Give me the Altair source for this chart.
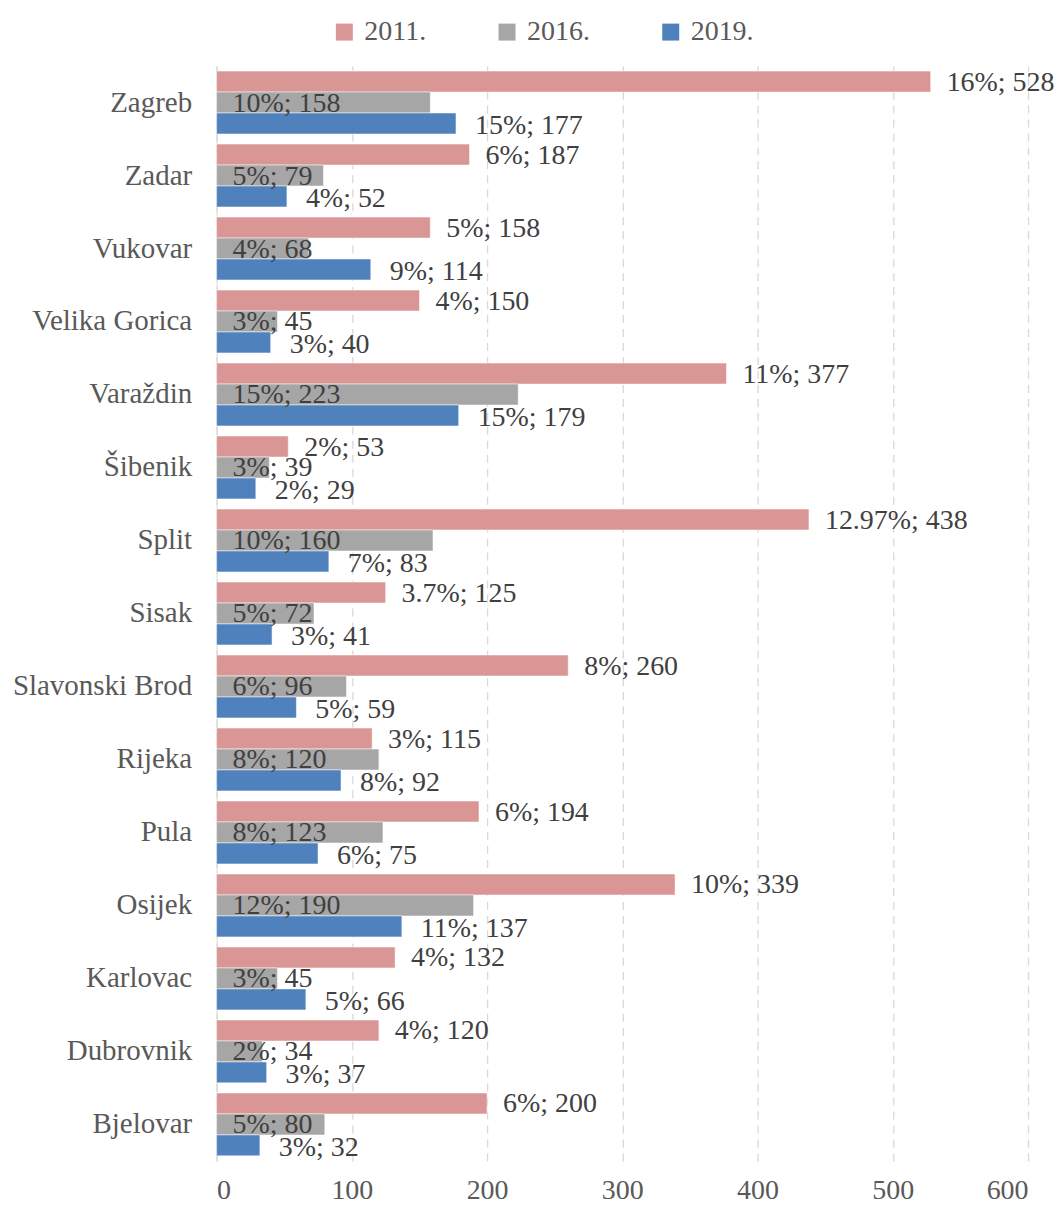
import altair as alt
import pandas as pd

cities = ["Zagreb", "Zadar", "Vukovar", "Velika Gorica", "Varaždin", "Šibenik", "Split",
          "Sisak", "Slavonski Brod", "Rijeka", "Pula", "Osijek", "Karlovac", "Dubrovnik", "Bjelovar"]
years = ["2011.", "2016.", "2019."]
v2011 = [528, 187, 158, 150, 377, 53, 438, 125, 260, 115, 194, 339, 132, 120, 200]
p2011 = ["16%", "6%", "5%", "4%", "11%", "2%", "12.97%", "3.7%", "8%", "3%", "6%", "10%", "4%", "4%", "6%"]
v2016 = [158, 79, 68, 45, 223, 39, 160, 72, 96, 120, 123, 190, 45, 34, 80]
p2016 = ["10%", "5%", "4%", "3%", "15%", "3%", "10%", "5%", "6%", "8%", "8%", "12%", "3%", "2%", "5%"]
v2019 = [177, 52, 114, 40, 179, 29, 83, 41, 59, 92, 75, 137, 66, 37, 32]
p2019 = ["15%", "4%", "9%", "3%", "15%", "2%", "7%", "3%", "5%", "8%", "6%", "11%", "5%", "3%", "3%"]
colors = ["#D99694", "#A6A6A6", "#4F81BD"]

rows = []
for yr, vals, pcts in zip(years, [v2011, v2016, v2019], [p2011, p2016, p2019]):
    for c, v, p in zip(cities, vals, pcts):
        rows.append({"city": c, "year": yr, "value": v, "label": f"{p}; {v}"})
df = pd.DataFrame(rows)

FONT = "Liberation Serif"

y_enc = alt.Y("city:N", sort=cities, title=None,
              scale=alt.Scale(paddingInner=0.139, paddingOuter=0.0695),
              axis=alt.Axis(labelFont=FONT, labelFontSize=29, labelColor="#595959",
                            labelPadding=25, ticks=False, domainColor="#D9D9D9",
                            domainWidth=1))
yoff = alt.YOffset("year:N", sort=years, scale=alt.Scale(paddingInner=0, paddingOuter=0))

bars = alt.Chart(df).mark_bar(stroke="white", strokeWidth=0.5).encode(
    x=alt.X("value:Q", title=None,
            scale=alt.Scale(domain=[0, 600]),
            axis=alt.Axis(values=[0, 100, 200, 300, 400, 500, 600], labelFont=FONT,
                          labelFontSize=28, labelColor="#595959", labelPadding=16,
                          ticks=False, domain=False, gridColor="#D9D9D9",
                          gridDash=[8, 6], gridWidth=1.3)),
    y=y_enc,
    yOffset=yoff,
    color=alt.Color("year:N", sort=years,
                    scale=alt.Scale(domain=years, range=colors),
                    legend=alt.Legend(title=None, orient="none", direction="horizontal",
                                      legendX=114, legendY=-48, symbolType="square",
                                      symbolSize=289, symbolStrokeWidth=0,
                                      labelFont=FONT, labelFontSize=28,
                                      labelColor="#595959", labelOffset=6,
                                      columnPadding=67, padding=0)),
)

lab2011 = alt.Chart(df[df.year == "2011."]).mark_text(
    align="left", baseline="middle", dx=16, dy=1, font=FONT, fontSize=28, color="#404040"
).encode(x="value:Q", y=alt.Y("city:N", sort=cities), yOffset=yoff, text="label:N")

lab2016 = alt.Chart(df[df.year == "2016."]).mark_text(
    align="left", baseline="middle", dx=16, dy=1, font=FONT, fontSize=28, color="#404040"
).encode(x=alt.datum(0), y=alt.Y("city:N", sort=cities), yOffset=yoff, text="label:N")

lab2019 = alt.Chart(df[df.year == "2019."]).mark_text(
    align="left", baseline="middle", dx=19, dy=3, font=FONT, fontSize=28, color="#404040"
).encode(x="value:Q", y=alt.Y("city:N", sort=cities), yOffset=yoff, text="label:N")

chart = alt.layer(bars, lab2011, lab2016, lab2019).properties(
    width=813, height=1097, padding={"left": 4, "top": 9, "right": 0, "bottom": 0}
).configure(background="white", font=FONT).configure_view(stroke=None)

chart.save("out.html", embed_options={"renderer": "svg", "actions": False})
